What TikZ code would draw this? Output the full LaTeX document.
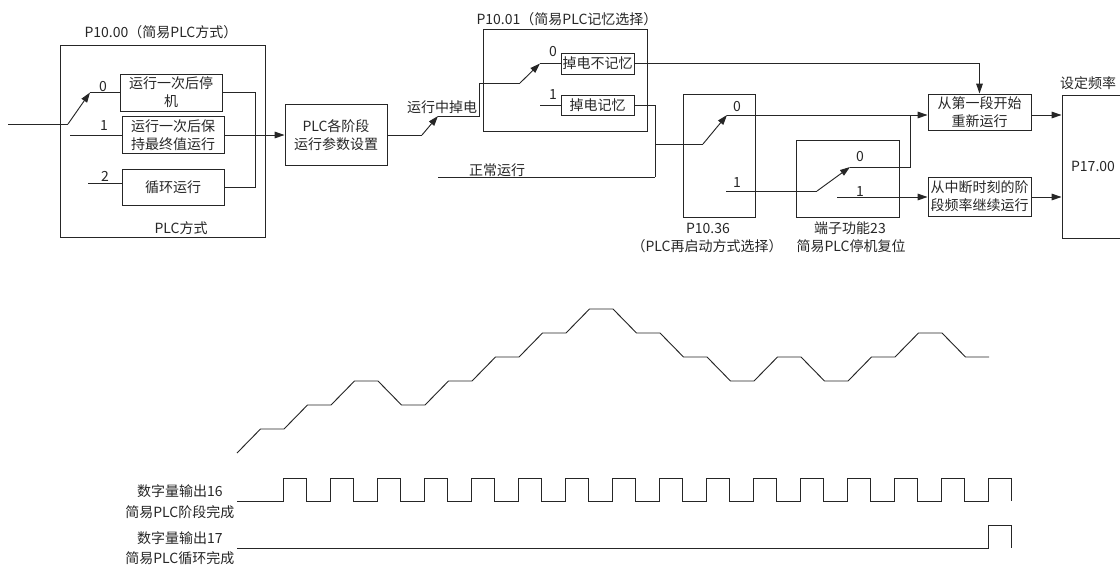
\documentclass[tikz,border=0pt]{standalone}
\usepackage{fontspec}
\setmainfont{Noto Sans CJK SC}
\usetikzlibrary{positioning, arrows.meta, calc}
\definecolor{strich}{HTML}{262626}

\begin{document}
\begin{tikzpicture}[x=0.75pt, y=-0.75pt,
      every node/.style={font=\fontsize{10.5}{13.5}\selectfont, text=strich},
      kasten/.style={draw=strich, line width=0.7pt, align=center, inner sep=1pt},
      rahmen/.style={draw=strich, line width=0.7pt, inner sep=0pt},
      linie/.style={strich, line width=0.7pt},
      pfeil/.style={-{Triangle[length=7.5pt, width=5pt]}, strich, line width=0.7pt},
      zahl/.style={inner sep=1pt}]
    \useasboundingbox (0,0) rectangle (1120,568);

    % P10.00 PLC-Modus
    \node[rahmen, minimum width=153.75pt, minimum height=144pt] (modus) at (162.5,141) {};
    \node (modustitel) at (161,32) {P10.00（简易PLC方式）};
    \node (modusname) at (181,228) {PLC方式};
    \node[kasten, minimum width=76.5pt, minimum height=27.75pt] (m0) at (171,92.5) {运行一次后停\\机};
    \node[kasten, minimum width=76.5pt, minimum height=27.75pt] (m1) at (173,135) {运行一次后保\\持最终值运行};
    \node[kasten, minimum width=76.5pt, minimum height=27pt] (m2) at (173,187) {循环运行};
    \node[zahl] (z0) at (103,87) {0};
    \node[zahl] (z1) at (104,126) {1};
    \node[zahl] (z2) at (105,176) {2};

    \node[kasten, minimum width=76.5pt, minimum height=45.75pt] (plc) at (336,135) {PLC各阶段\\运行参数设置};

    % P10.01 Speicher
    \node[rahmen, minimum width=123pt, minimum height=76.5pt] (speicher) at (565,80) {};
    \node (speichertitel) at (567,19) {P10.01（简易PLC记忆选择）};
    \node[kasten, minimum width=54.75pt, minimum height=15.75pt] (k0) at (597.5,63.5) {掉电不记忆};
    \node[kasten, minimum width=54.75pt, minimum height=15pt] (k1) at (597.5,105) {掉电记忆};
    \node[zahl] (z3) at (553,52) {0};
    \node[zahl] (z4) at (553,95) {1};
    \node (ausfall) at (442,107) {运行中掉电};
    \node (normal) at (497,170) {正常运行};

    % P10.36 und Klemme 23
    \node[rahmen, minimum width=54pt, minimum height=92.25pt] (neustart) at (719,155.5) {};
    \node (neustartname) at (708,228) {P10.36};
    \node (neustarttext) at (707,246) {（PLC再启动方式选择）};
    \node[zahl] (z5) at (737,107) {0};
    \node[zahl] (z6) at (737,183) {1};
    \node[rahmen, minimum width=77.25pt, minimum height=57.75pt] (klemme) at (847.5,178.5) {};
    \node (klemmename) at (850,228) {端子功能23};
    \node (klemmetext) at (851,246) {简易PLC停机复位};
    \node[zahl] (z7) at (860,157) {0};
    \node[zahl] (z8) at (860,192) {1};

    \node[kasten, minimum width=77.25pt, minimum height=27pt] (r0) at (979.5,112) {从第一段开始\\重新运行};
    \node[kasten, minimum width=77.25pt, minimum height=29.25pt] (r1) at (979.5,196.5) {从中断时刻的阶\\段频率继续运行};
    \node[rahmen, minimum width=46.5pt, minimum height=107.25pt] (p17) at (1093,166.5) {P17.00};
    \node (p17titel) at (1088,83) {设定频率};

    % Schalter P10.00
    \coordinate (ein) at (8,124);
    \coordinate (s0a) at (68,124);
    \coordinate (s0b) at (90,92.5);
    \coordinate (s1) at (70,135);
    \coordinate (s2) at (88,183);
    \draw[linie] (ein) -- (s0a);
    \draw[pfeil] (s0a) -- (s0b);
    \draw[linie] (s0b) -- (m0.west);
    \draw[linie] (s1) -- (m1.west);
    \draw[linie] (s2) -- (s2 -| m2.west);
    \draw[linie] (m0.east) -- ++(33,0) |- (m2.east);
    \draw[pfeil] (m1.east) -- (plc.west);

    % Schalter P10.01
    \coordinate (s3a) at (422,135);
    \coordinate (s3b) at (438,116);
    \coordinate (s4a) at (520,83);
    \coordinate (s4b) at (540,63.5);
    \coordinate (s5) at (540,105);
    \draw[linie] (plc.east) -- (s3a);
    \draw[pfeil] (s3a) -- (s3b);
    \draw[linie] (s3b) -- (479,116) |- (s4a);
    \draw[pfeil] (s4a) -- (s4b);
    \draw[linie] (s4b) -- (k0.west);
    \draw[linie] (s5) -- (k1.west);
    \draw[pfeil] (k0.east) -| (r0.north);

    % Schalter P10.36 und Klemme 23
    \coordinate (knoten) at (655,177);
    \coordinate (norm) at (438,177);
    \coordinate (abzweig) at (655,144);
    \coordinate (s6a) at (703,144);
    \coordinate (s6b) at (727,115);
    \coordinate (s7) at (726,191);
    \coordinate (s7a) at (817,191);
    \coordinate (s7b) at (850,167);
    \coordinate (treff) at (910,115);
    \coordinate (s8) at (837,197);
    \draw[linie] (k1.east) -| (knoten);
    \draw[linie] (norm) -- (knoten);
    \draw[linie] (abzweig) -- (s6a);
    \draw[pfeil] (s6a) -- (s6b);
    \draw[pfeil] (s6b) -- (s6b -| r0.west);
    \draw[linie] (s7) -- (s7a);
    \draw[pfeil] (s7a) -- (s7b);
    \draw[linie] (s7b) -| (treff);
    \draw[pfeil] (s8) -- (s8 -| r1.west);
    \draw[pfeil] (r0.east |- treff) -- (treff -| p17.west);
    \draw[pfeil] (r1.east |- s8) -- (s8 -| p17.west);

    % Frequenzverlauf
    \draw[linie] (237,453) foreach \lv [count=\i] in {1,2,3,2,3,4,5,6,5,4,3,4,3,4,5,4} {
      -- ({237+47*\i-23.5},{453-24*\lv}) -- ({237+47*\i},{453-24*\lv}) };

    % Digitalausgaenge
    \node[anchor=east, align=center, font=\fontsize{10.5}{15.5}\selectfont] (do16) at (239,502) {数字量输出16\\简易PLC阶段完成};
    \node[anchor=east, align=center, font=\fontsize{10.5}{15}\selectfont] (do17) at (239,548) {数字量输出17\\简易PLC循环完成};
    \draw[linie] (237,501) foreach \i in {0,...,15} {
      -- ({283+47*\i},501) -- ++(0,-23) -- ++(23.5,0) -- ++(0,23) };
    \draw[linie] (237,548) -- (988,548) -- ++(0,-23) -- ++(23.5,0) -- ++(0,23);
  \end{tikzpicture}
\end{document}
